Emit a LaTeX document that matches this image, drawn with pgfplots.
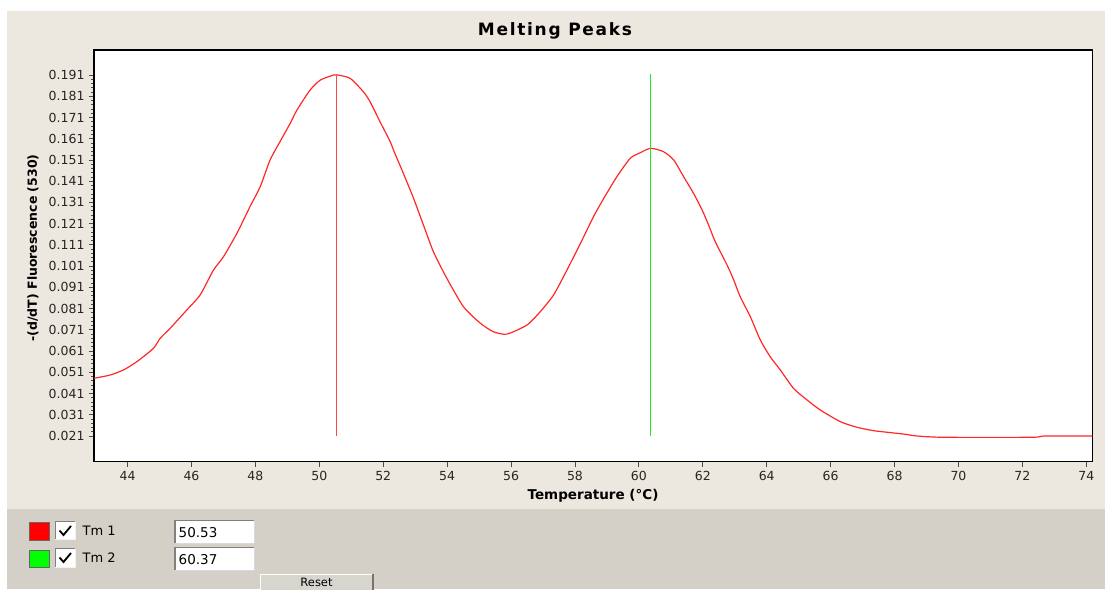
\documentclass[border=0pt]{standalone}
\usepackage{fontspec}
\setmainfont{DejaVu Sans}
\usepackage{pgfplots}
\pgfplotsset{compat=1.18}
\definecolor{panelbeige}{RGB}{237,232,223}
\definecolor{panelgray}{RGB}{212,208,200}
\definecolor{curvered}{RGB}{255,40,40}
\definecolor{tmred}{RGB}{255,70,70}
\definecolor{tmgreen}{RGB}{40,230,40}
\definecolor{boxred}{RGB}{255,0,0}
\definecolor{boxgreen}{RGB}{0,255,0}
\definecolor{darkedge}{RGB}{128,128,128}
\begin{document}
\begin{tikzpicture}
\useasboundingbox (0pt,0pt) rectangle (1105pt,589pt);
\fill[white] (0pt,0pt) rectangle (1105pt,589pt);
% panels
\fill[panelbeige] (7pt,79.7pt) rectangle (1105pt,578pt);
\fill[panelgray] (7pt,0pt) rectangle (1105pt,79.7pt);
\begin{axis}[
  at={(94pt,127.3pt)}, anchor=south west,
  scale only axis, width=998.7pt, height=411.7pt,
  xmin=42.95, xmax=74.2, ymin=0.0089, ymax=0.2028,
  axis background/.style={fill=white},
  axis line style={black, line width=1.4pt},
  tick align=outside,
  major tick length=5pt, minor tick length=3pt,
  tick style={color=black!70, line width=0.9pt},
  xtick={44,46,...,74},
  ytick={0.021,0.031,0.041,0.051,0.061,0.071,0.081,0.091,0.101,0.111,0.121,0.131,0.141,0.151,0.161,0.171,0.181,0.191},
  yticklabels={0.021,0.031,0.041,0.051,0.061,0.071,0.081,0.091,0.101,0.111,0.121,0.131,0.141,0.151,0.161,0.171,0.181,0.191},
  minor y tick num=4,
  xtick pos=bottom, ytick pos=left,
  /pgf/number format/assume math mode=true,
  ticklabel style={font=\fontsize{12.5}{14}\selectfont, text=black!85},
  yticklabel style={xshift=-1pt},
  xticklabel style={yshift=-1pt},
  title={\addfontfeatures{LetterSpace=10}Melting Peaks},
  title style={at={(axis description cs:0.4616,1.0522)}, anchor=center, yshift=-8pt, font=\fontsize{17}{20}\selectfont\bfseries},
  xlabel={Temperature (°C)},
  xlabel style={at={(axis description cs:0.4997,-0.0821)}, anchor=center, font=\fontsize{13.5}{16}\selectfont\bfseries},
  ylabel={-(d/dT) Fluorescence (530)},
  ylabel style={at={(axis description cs:-0.0611,0.519)}, anchor=center, rotate=0, font=\fontsize{12.5}{15}\selectfont\bfseries},
  clip=true,
]
\addplot[curvered, line width=1.2pt, smooth, tension=0.4] coordinates {
(42.95,0.0482) (43.45,0.0497) (43.87,0.0521) (44.29,0.0560) (44.81,0.0623)
(45.02,0.0670) (45.33,0.0717) (45.85,0.0803) (46.27,0.0874) (46.69,0.0992)
(47.00,0.1054) (47.42,0.1164) (47.83,0.1290) (48.15,0.1384) (48.46,0.1510)
(48.77,0.1596) (49.09,0.1683) (49.30,0.1745) (49.71,0.1839) (50.03,0.1886)
(50.44,0.1910) (50.55,0.1911) (50.97,0.1894) (51.38,0.1831) (51.59,0.1784)
(51.90,0.1690) (52.22,0.1596) (52.32,0.1557) (52.63,0.1447) (52.95,0.1329)
(53.26,0.1203) (53.57,0.1078) (53.99,0.0953) (54.51,0.0819) (55.04,0.0741)
(55.45,0.0701) (55.87,0.0690) (56.50,0.0733) (56.91,0.0795) (57.33,0.0874)
(57.75,0.0992) (58.17,0.1117) (58.58,0.1243) (58.90,0.1329) (59.31,0.1431)
(59.73,0.1518) (60.04,0.1544) (60.37,0.1565) (60.77,0.1549) (61.09,0.1510)
(61.40,0.1431) (61.71,0.1353) (61.98,0.1274) (62.18,0.1204) (62.39,0.1125)
(62.76,0.1015) (62.97,0.0944) (63.17,0.0866) (63.49,0.0771) (63.80,0.0662)
(64.11,0.0583) (64.43,0.0520) (64.84,0.0434) (65.26,0.0380) (65.68,0.0332)
(66.31,0.0277) (66.83,0.0251) (67.35,0.0235) (67.87,0.0226) (68.29,0.0219)
(68.71,0.0210) (69.54,0.0204) (72.30,0.0204) (72.70,0.0210) (74.19,0.0210)
};
\addplot[tmred, line width=1.3pt] coordinates {(50.53,0.021) (50.53,0.1911)};
\addplot[tmgreen, line width=1.3pt] coordinates {(60.37,0.021) (60.37,0.1913)};
\end{axis}
% bottom control panel
% row 1
\fill[boxred] (29.3pt,49pt) rectangle (49.3pt,66.3pt);
\draw[black!60, line width=0.8pt] (29.3pt,49pt) rectangle (49.3pt,66.3pt);
\fill[white] (55.3pt,49pt) rectangle (75.3pt,67pt);
\draw[darkedge, line width=1pt] (55.3pt,49pt) -- (55.3pt,67pt) -- (75.3pt,67pt);
\draw[white!95!black, line width=1pt] (55.3pt,49pt) -- (75.3pt,49pt) -- (75.3pt,67pt);
\draw[black, line width=1.8pt] (59.5pt,58.5pt) -- (63.5pt,54pt) -- (71pt,63pt);
\node[anchor=west, font=\fontsize{13}{15}\selectfont, inner sep=0pt] at (82.5pt,58.5pt) {Tm 1};
\fill[white] (175pt,45.7pt) rectangle (254pt,68.3pt);
\draw[darkedge, line width=1.2pt] (175pt,45.7pt) -- (175pt,68.3pt) -- (254pt,68.3pt);
\draw[black!15, line width=1pt] (175pt,45.7pt) -- (254pt,45.7pt) -- (254pt,68.3pt);
\node[anchor=west, font=\fontsize{13.5}{15}\selectfont, inner sep=0pt] at (178.5pt,56.5pt) {50.53};
% row 2
\fill[boxgreen] (29.3pt,22pt) rectangle (49.3pt,39pt);
\draw[black!60, line width=0.8pt] (29.3pt,22pt) rectangle (49.3pt,39pt);
\fill[white] (55.3pt,22pt) rectangle (75.3pt,40pt);
\draw[darkedge, line width=1pt] (55.3pt,22pt) -- (55.3pt,40pt) -- (75.3pt,40pt);
\draw[white!95!black, line width=1pt] (55.3pt,22pt) -- (75.3pt,22pt) -- (75.3pt,40pt);
\draw[black, line width=1.8pt] (59.5pt,31.5pt) -- (63.5pt,27pt) -- (71pt,36pt);
\node[anchor=west, font=\fontsize{13}{15}\selectfont, inner sep=0pt] at (82.5pt,31pt) {Tm 2};
\fill[white] (175pt,19pt) rectangle (254pt,41.7pt);
\draw[darkedge, line width=1.2pt] (175pt,19pt) -- (175pt,41.7pt) -- (254pt,41.7pt);
\draw[black!15, line width=1pt] (175pt,19pt) -- (254pt,19pt) -- (254pt,41.7pt);
\node[anchor=west, font=\fontsize{13.5}{15}\selectfont, inner sep=0pt] at (178.5pt,29.8pt) {60.37};
% reset button (cut by the lower edge)
\fill[panelgray!90!white] (260pt,-10pt) rectangle (373pt,15pt);
\draw[white, line width=1pt] (260pt,-10pt) -- (260pt,15pt) -- (373pt,15pt);
\draw[black!55, line width=1.2pt] (373pt,15pt) -- (373pt,-10pt);
\node[font=\fontsize{11.5}{13}\selectfont, inner sep=0pt, anchor=base] at (316.5pt,3pt) {Reset};
\end{tikzpicture}
\end{document}
